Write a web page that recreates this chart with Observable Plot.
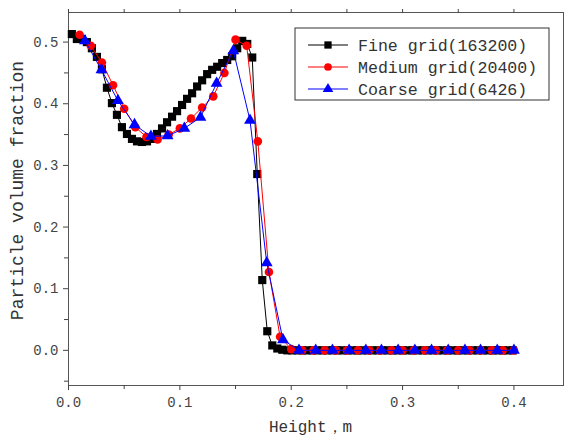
<!DOCTYPE html>
<html>
<head>
<meta charset="utf-8">
<script src="https://cdn.jsdelivr.net/npm/d3@7"></script>
<script src="https://cdn.jsdelivr.net/npm/@observablehq/plot@0.6"></script>
<style>
  html, body { margin: 0; padding: 0; background: #fff; }
</style>
</head>
<body>
<div id="chart"></div>
<script>
// ---- data ----
const fineX = [0.003, 0.0075, 0.012, 0.0165, 0.021, 0.0255, 0.030, 0.0345, 0.039, 0.0435,
  0.048, 0.0525, 0.057, 0.0615, 0.066, 0.0705, 0.075, 0.0795, 0.084, 0.0885,
  0.093, 0.0975, 0.102, 0.1065, 0.111, 0.1155, 0.120, 0.1245, 0.129, 0.1335,
  0.138, 0.1425, 0.147, 0.1515, 0.156, 0.1605, 0.165, 0.1695, 0.174, 0.1785,
  0.183, 0.1875, 0.192, 0.1965, 0.201, 0.2055, 0.21, 0.2145, 0.219, 0.2235,
  0.228, 0.2325, 0.237, 0.2415, 0.246, 0.2505, 0.255, 0.2595, 0.264, 0.2685,
  0.273, 0.2775, 0.282, 0.2865, 0.291, 0.2955, 0.3, 0.3045, 0.309, 0.3135,
  0.318, 0.3225, 0.327, 0.3315, 0.336, 0.3405, 0.345, 0.3495, 0.354, 0.3585,
  0.363, 0.3675, 0.372, 0.3765, 0.381, 0.3855, 0.39, 0.3945, 0.399];
const fineY = [0.513, 0.505, 0.505, 0.500, 0.490, 0.476, 0.456, 0.426, 0.401, 0.382,
  0.362, 0.351, 0.343, 0.339, 0.338, 0.339, 0.343, 0.351, 0.360, 0.370,
  0.379, 0.388, 0.398, 0.408, 0.417, 0.428, 0.438, 0.448, 0.455, 0.460,
  0.466, 0.471, 0.477, 0.490, 0.502, 0.497, 0.475, 0.286, 0.114, 0.031,
  0.008, 0.003, 0.001, 0, 0, 0, 0, 0, 0, 0,
  0, 0, 0, 0, 0, 0, 0, 0, 0, 0,
  0, 0, 0, 0, 0, 0, 0, 0, 0, 0,
  0, 0, 0, 0, 0, 0, 0, 0, 0, 0,
  0, 0, 0, 0, 0, 0, 0, 0, 0];

const mediumX = [0.01, 0.02, 0.03, 0.04, 0.05, 0.06, 0.07, 0.08, 0.09, 0.10,
  0.11, 0.12, 0.13, 0.14, 0.15, 0.16, 0.17, 0.18, 0.19, 0.20,
  0.21, 0.22, 0.23, 0.24, 0.25, 0.26, 0.27, 0.28, 0.29, 0.30,
  0.31, 0.32, 0.33, 0.34, 0.35, 0.36, 0.37, 0.38, 0.39, 0.40];
const mediumY = [0.512, 0.494, 0.467, 0.430, 0.392, 0.362, 0.346, 0.342, 0.350, 0.360,
  0.376, 0.394, 0.412, 0.450, 0.504, 0.494, 0.339, 0.127, 0.022, 0.002,
  0, 0, 0, 0, 0, 0, 0, 0, 0, 0,
  0, 0, 0, 0, 0, 0, 0, 0, 0, 0];

const coarseX = [0.0148, 0.0296, 0.0444, 0.0593, 0.074, 0.089, 0.104, 0.1185, 0.133, 0.148,
  0.163, 0.178, 0.1926, 0.207, 0.222, 0.237, 0.252, 0.267, 0.281, 0.296,
  0.311, 0.326, 0.341, 0.356, 0.370, 0.385, 0.400];
const coarseY = [0.502, 0.455, 0.405, 0.366, 0.347, 0.348, 0.360, 0.378, 0.433, 0.486,
  0.373, 0.142, 0.017, 0, 0, 0, 0, 0, 0, 0,
  0, 0, 0, 0, 0, 0, 0];

const seriesNames = ["Fine grid(163200)", "Medium grid(20400)", "Coarse grid(6426)"];
const seriesColors = ["#000000", "#ff0000", "#0000ff"];
const seriesSymbols = ["square", "circle", "triangle"];

const xTicks = [0, 0.1, 0.2, 0.3, 0.4];
const xMinor = [0.05, 0.15, 0.25, 0.35];
const yTicks = [0, 0.1, 0.2, 0.3, 0.4, 0.5];
const yMinor = [-0.05, 0.05, 0.15, 0.25, 0.35, 0.45];

const xLabel = "Height，m";
const yLabel = "Particle volume fraction";

// ---- build tables ----
const fine = fineX.map((x, i) => ({x, y: fineY[i]}));
const medium = mediumX.map((x, i) => ({x, y: mediumY[i]}));
const coarse = coarseX.map((x, i) => ({x, y: coarseY[i]}));
const tables = [fine, medium, coarse];
const radii = [4.6, 4.3, 4.4];

const FONT = "'Liberation Mono', 'DejaVu Sans Mono', monospace";
const W = 564, H = 437;
const mL = 68, mR = 1, mT = 12, mB = 52;

const marks = [
  Plot.frame({stroke: "#555"}),
  Plot.axisX({ticks: xTicks, tickFormat: d => d.toFixed(1), tickSize: 5, tickPadding: 7, label: null, fontSize: 14}),
  Plot.axisX({ticks: xMinor, tickFormat: () => "", tickSize: 4, label: null}),
  Plot.axisX({anchor: "top", ticks: xTicks.concat(xMinor), tickFormat: () => "", tickSize: 4, label: null}),
  Plot.axisY({ticks: yTicks, tickFormat: d => d.toFixed(1), tickSize: 5, tickPadding: 5, label: null, fontSize: 14}),
  Plot.axisY({ticks: yMinor, tickFormat: () => "", tickSize: 4, label: null}),
];
tables.forEach((t, i) => {
  marks.push(Plot.line(t, {x: "x", y: "y", stroke: seriesColors[i], strokeWidth: 1}));
  marks.push(Plot.dot(t, {x: "x", y: "y", symbol: seriesSymbols[i], fill: seriesColors[i], stroke: "none", r: radii[i]}));
});

const svg = Plot.plot({
  width: W, height: H,
  marginLeft: mL, marginRight: mR, marginTop: mT, marginBottom: mB,
  x: {domain: [0, 0.4445]},
  y: {domain: [-0.057, 0.548]},
  style: {fontFamily: FONT, fontSize: "14px", color: "#444", background: "#fff", overflow: "visible"},
  marks
});

const s = d3.select(svg);
// axis titles
s.append("text")
  .attr("x", (mL + W - mR) / 2 - 5).attr("y", 432)
  .attr("text-anchor", "middle")
  .attr("font-family", FONT).attr("font-size", 16).attr("fill", "#333")
  .text(xLabel);
s.append("text")
  .attr("transform", `translate(23,${(mT + H - mB) / 2 - 8}) rotate(-90)`)
  .attr("text-anchor", "middle")
  .attr("font-family", FONT).attr("font-size", 18).attr("fill", "#333")
  .text(yLabel);

// legend
const lg = s.append("g").attr("text-anchor", "start");
lg.append("rect").attr("x", 295).attr("y", 28).attr("width", 254).attr("height", 72)
  .attr("fill", "#fff").attr("stroke", "#333").attr("stroke-width", 1);
const symMap = {square: d3.symbolSquare, circle: d3.symbolCircle, triangle: d3.symbolTriangle};
seriesNames.forEach((name, i) => {
  const cy = 45 + i * 22;
  lg.append("line").attr("x1", 308).attr("x2", 348).attr("y1", cy).attr("y2", cy)
    .attr("stroke", seriesColors[i]).attr("stroke-width", 1);
  lg.append("path")
    .attr("d", d3.symbol(symMap[seriesSymbols[i]], Math.PI * radii[i] * radii[i] * 0.8)())
    .attr("transform", `translate(328,${cy})`)
    .attr("fill", seriesColors[i]);
  lg.append("text").attr("x", 358).attr("y", cy).attr("dy", "0.35em")
    .attr("text-anchor", "start")
    .attr("font-family", FONT).attr("font-size", 16.6).attr("fill", "#333")
    .text(name);
});

document.getElementById("chart").appendChild(svg);
</script>
</body>
</html>
